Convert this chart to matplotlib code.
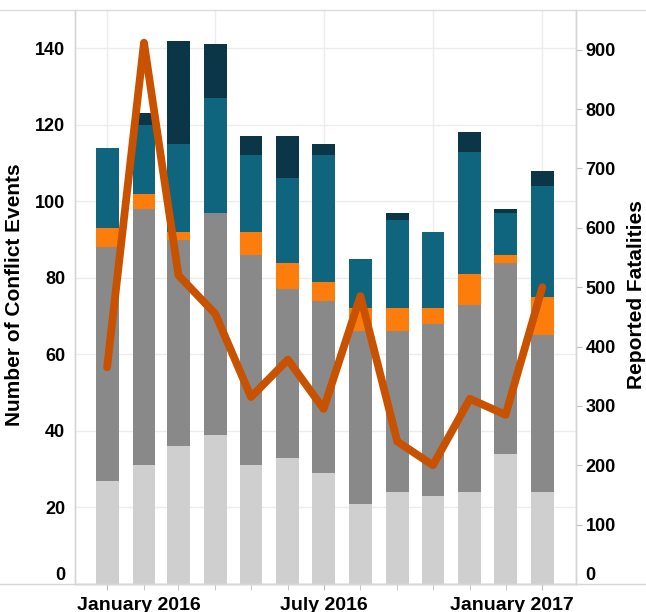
import matplotlib
matplotlib.use('Agg')
import matplotlib.pyplot as plt
import matplotlib.dates as mdates
import matplotlib.transforms as mtransforms
from matplotlib.lines import Line2D
import pandas as pd

plt.rcParams['font.family'] = ['Liberation Sans', 'DejaVu Sans']

# monthly data, Jan 2016 - Jan 2017
months = pd.date_range('2016-01-01', '2017-01-01', freq='MS')
light_gray = [27, 31, 36, 39, 31, 33, 29, 21, 24, 23, 24, 34, 24]
dark_gray = [61, 67, 54, 58, 55, 44, 45, 45, 42, 45, 49, 50, 41]
orange = [5, 4, 2, 0, 6, 7, 5, 6, 6, 4, 8, 2, 10]
teal = [21, 18, 23, 30, 20, 22, 33, 13, 23, 20, 32, 11, 29]
navy = [0, 3, 27, 14, 5, 11, 3, 0, 2, 0, 5, 1, 4]
fatalities = [365, 912, 520, 455, 315, 378, 295, 485, 240, 200, 312, 285, 500]

x_labels = ['January 2016', 'July 2016', 'January 2017']

W, H = 646, 612
fig = plt.figure(figsize=(W / 100, H / 100), dpi=100)
ax = fig.add_axes([75 / W, 1 - 584 / H, 501 / W, 574 / H])
ax2 = ax.twinx()

x = mdates.date2num(months)
series = [light_gray, dark_gray, orange, teal, navy]
colors = ['#cfcfcf', '#898989', '#fc7d0b', '#10657e', '#0b3647']
bottom = [0] * len(x)
for vals, c in zip(series, colors):
    ax.bar(x, vals, width=19.3, bottom=bottom, color=c, zorder=3)
    bottom = [b + v for b, v in zip(bottom, vals)]

ax2.plot(x, fatalities, color='#c85200', lw=5.6,
         solid_capstyle='round', solid_joinstyle='round', zorder=5)

ax.set_xlim(mdates.date2num(pd.Timestamp('2015-12-05')),
            mdates.date2num(pd.Timestamp('2017-01-29 06:00')))
ax.set_ylim(0, 150)
ax2.set_ylim(0, 967)

# grid
ax.set_yticks(range(0, 141, 20))
ax.yaxis.grid(True, color='#ececec', lw=1, zorder=0)
for q in x[::3]:
    ax.axvline(q, color='#ececec', lw=1, zorder=0)

ax.set_xticks([x[0], x[6], x[12]])
ax.set_xticklabels(x_labels)
ax.set_xticks(x, minor=True)
ax.tick_params(axis='x', which='both', length=4, color='#bdbdbd', pad=5.5)
ax.tick_params(axis='x', labelsize=14)
for lab in ax.get_xticklabels():
    lab.set_fontweight('bold')

ax.tick_params(axis='y', length=0, pad=7, labelsize=13)
for lab in ax.get_yticklabels():
    lab.set_fontweight('bold')

ax2.set_yticks(range(0, 901, 100))
ax2.tick_params(axis='y', length=4, color='#bdbdbd', pad=3, labelsize=13)
for lab in ax2.get_yticklabels():
    lab.set_fontweight('bold')

# keep the edge labels inside the pane like the original
xt = ax.xaxis.get_major_ticks()
xt[0].label1.set_horizontalalignment('left')
xt[0].label1.set_transform(xt[0].label1.get_transform() +
                           mtransforms.ScaledTranslation(-0.30, 0, fig.dpi_scale_trans))
xt[-1].label1.set_horizontalalignment('right')
xt[-1].label1.set_transform(xt[-1].label1.get_transform() +
                            mtransforms.ScaledTranslation(0.31, 0, fig.dpi_scale_trans))
ax.yaxis.get_major_ticks()[0].label1.set_verticalalignment('bottom')
ax2.yaxis.get_major_ticks()[0].label2.set_verticalalignment('bottom')

for a in (ax, ax2):
    for s in a.spines.values():
        s.set_color('#d6d6d6')
        s.set_linewidth(1)
    a.spines['top'].set_visible(False)

fig.add_artist(Line2D([0, 1], [1 - 10 / H] * 2, transform=fig.transFigure,
                      color='#dcdcdc', lw=1))
fig.add_artist(Line2D([0, 1], [1 - 584 / H] * 2, transform=fig.transFigure,
                      color='#d6d6d6', lw=1))

fig.text(15 / W, 1 - 295 / H, 'Number of Conflict Events', rotation=90,
         ha='center', va='center', fontsize=15, fontweight='bold')
fig.text(636 / W, 1 - 295 / H, 'Reported Fatalities', rotation=90,
         ha='center', va='center', fontsize=15, fontweight='bold')

fig.savefig('out.png', dpi=100)
